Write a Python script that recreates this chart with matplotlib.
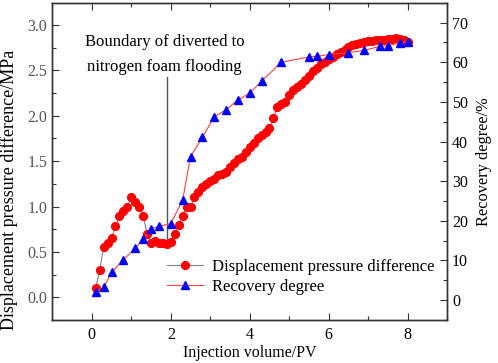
import numpy as np
import matplotlib
matplotlib.use("Agg")
import matplotlib.pyplot as plt
from matplotlib.ticker import MultipleLocator, FormatStrFormatter
from matplotlib.lines import Line2D

plt.rcParams['font.family'] = ['Liberation Serif', 'DejaVu Serif']

# pressure difference (MPa) vs injection volume (PV)
pv_p = [0.1, 0.2, 0.3, 0.4, 0.5, 0.6, 0.7, 0.8, 0.9, 1.0,
        1.1, 1.2, 1.3, 1.4, 1.5, 1.6, 1.7, 1.8, 1.9, 2.0,
        2.1, 2.2, 2.3, 2.4, 2.5, 2.6, 2.7, 2.8, 2.9, 3.0,
        3.1, 3.2, 3.3, 3.4, 3.5, 3.6, 3.7, 3.8, 3.9, 4.0,
        4.1, 4.2, 4.3, 4.4, 4.5, 4.6, 4.7, 4.8, 4.9, 5.0,
        5.1, 5.2, 5.3, 5.4, 5.5, 5.6, 5.7, 5.8, 5.9, 6.0,
        6.1, 6.2, 6.3, 6.4, 6.5, 6.6, 6.7, 6.8, 6.9, 7.0,
        7.1, 7.2, 7.3, 7.4, 7.5, 7.6, 7.7, 7.8, 7.9, 8.0]
dp = [0.10, 0.30, 0.55, 0.60, 0.65, 0.78, 0.90, 0.95, 1.00, 1.10,
      1.05, 1.00, 0.90, 0.70, 0.60, 0.62, 0.60, 0.60, 0.59, 0.61,
      0.70, 0.80, 0.90, 1.00, 1.00, 1.10, 1.16, 1.21, 1.25, 1.28,
      1.30, 1.35, 1.36, 1.38, 1.44, 1.48, 1.52, 1.55, 1.60, 1.66,
      1.70, 1.76, 1.79, 1.82, 1.86, 1.98, 2.10, 2.13, 2.15, 2.23,
      2.28, 2.32, 2.35, 2.39, 2.44, 2.49, 2.53, 2.57, 2.59, 2.62,
      2.65, 2.68, 2.70, 2.72, 2.76, 2.78, 2.79, 2.80, 2.81, 2.82,
      2.82, 2.83, 2.83, 2.83, 2.84, 2.85, 2.86, 2.84, 2.83, 2.81]

# recovery degree (%)
pv_r = [0.1, 0.3, 0.5, 0.8, 1.1, 1.3, 1.5, 1.7, 2.0, 2.3, 2.5, 2.8, 3.1, 3.4,
        3.7, 4.0, 4.3, 4.8, 5.5, 5.7, 6.0, 6.5, 6.9, 7.3, 7.5, 7.8, 8.0]
rec = [2.1, 3.2, 7.0, 10.2, 13.1, 15.3, 18.0, 18.6, 19.3, 25.2, 36.2, 41.1, 46.2, 48.0,
       50.5, 52.2, 55.2, 60.0, 61.3, 61.5, 61.9, 62.4, 63.0, 64.0, 64.2, 64.8, 65.2]

tick_col = '#555555'

fig = plt.figure(figsize=(4.98, 3.63), dpi=100)
ax = fig.add_axes([0.105, 0.1185, 0.793, 0.874])
ax2 = ax.twinx()

ax.plot(pv_p, dp, color='#808080', lw=0.8, marker='o', ms=5.6,
        mfc='red', mec='red', zorder=3)
ax2.plot(pv_r, rec, color='#ff4040', lw=0.8, marker='^', ms=6,
         mfc='blue', mec='blue', zorder=3)

ax.set_xlim(-1, 9)
ax.set_ylim(-0.25, 3.245)
ax2.set_ylim(-5, 75)

ax.xaxis.set_major_locator(MultipleLocator(2))
ax.xaxis.set_minor_locator(MultipleLocator(1))
ax.yaxis.set_major_locator(MultipleLocator(0.5))
ax.yaxis.set_minor_locator(MultipleLocator(0.25))
ax2.yaxis.set_major_locator(MultipleLocator(10))
ax2.yaxis.set_minor_locator(MultipleLocator(5))
ax.yaxis.set_major_formatter(FormatStrFormatter('%.1f'))

ax.tick_params(axis='x', which='both', direction='in', top=True, labelcolor='black',
               labelsize=11.5, color='#333333', pad=5)
ax.tick_params(axis='y', which='both', direction='in', labelcolor=tick_col,
               labelsize=11.5, color='#333333')
ax2.tick_params(axis='y', which='both', direction='in', labelcolor='black',
                labelsize=11.5, color='#333333')
for a in (ax, ax2):
    a.tick_params(which='major', length=5, width=0.8)
    a.tick_params(which='minor', length=3, width=0.8)
    for s in a.spines.values():
        s.set_color('#333333')
        s.set_linewidth(1.0)

ax.set_xlabel('Injection volume/PV', fontsize=11.5, labelpad=1.5)
ax.set_ylabel('Displacement pressure difference/MPa', fontsize=13)
ax.yaxis.set_label_coords(-0.088, 0.41)
ax2.set_ylabel('Recovery degree/%', fontsize=11.8, labelpad=6)

# boundary annotation
ax.plot([1.91, 1.91], [0.60, 2.43], color='#555555', lw=1.0, zorder=2)
ax.text(1.84, 2.81, 'Boundary of diverted to', ha='center', va='center', fontsize=12)
ax.text(1.84, 2.54, 'nitrogen foam flooding', ha='center', va='center', fontsize=12)

handles = [
    Line2D([], [], color='#808080', lw=0.8, marker='o', ms=5.6, mfc='red', mec='red'),
    Line2D([], [], color='#ff4040', lw=0.8, marker='^', ms=6, mfc='blue', mec='blue'),
]
fig.legend(handles, ['Displacement pressure difference', 'Recovery degree'],
           loc='upper left', bbox_to_anchor=(167 / 498, 1 - 259 / 363), frameon=False,
           fontsize=12, handlelength=2.15, handletextpad=0.55, labelspacing=0.25,
           borderpad=0, borderaxespad=0)

fig.savefig('out.png', dpi=100)
